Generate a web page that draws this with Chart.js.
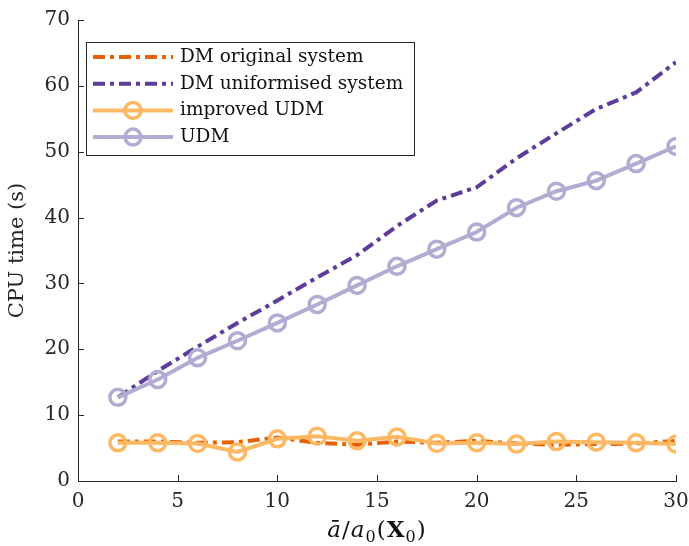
<!DOCTYPE html>
<html>
<head>
<meta charset="utf-8">
<script src="https://cdn.jsdelivr.net/npm/chart.js@4"></script>
<style>
  html, body { margin: 0; padding: 0; background: #fff; }
  #wrap { width: 689px; height: 546px; }
</style>
</head>
<body>
<div id="wrap"><canvas id="chart" width="689" height="546"></canvas></div>
<script>
const xs = [2, 4, 6, 8, 10, 12, 14, 16, 18, 20, 22, 24, 26, 28, 30]
const dmOriginal = [6.0, 6.0, 5.8, 5.9, 6.6, 5.8, 5.5, 6.0, 5.8, 6.1, 5.7, 5.5, 5.6, 5.7, 6.1]
const dmUniformised = [12.7, 16.7, 20.4, 24.0, 27.4, 30.9, 34.3, 38.7, 42.6, 44.6, 49.0, 52.8, 56.5, 59.0, 63.6]
const improvedUdm = [5.8, 5.8, 5.7, 4.4, 6.4, 6.8, 6.1, 6.7, 5.7, 5.8, 5.6, 6.0, 5.9, 5.8, 5.6]
const udm = [12.7, 15.4, 18.7, 21.3, 24.0, 26.8, 29.7, 32.6, 35.2, 37.8, 41.5, 44.0, 45.6, 48.2, 50.8]

const FONT = "'DejaVu Serif', 'Liberation Serif', serif"
const INK = '#262626'

function pts(ys) {
  return xs.map((x, i) => ({ x: x, y: ys[i] }))
}

const datasets = [
  {
    label: 'DM original system',
    data: pts(dmOriginal),
    borderColor: '#e66101',
    borderWidth: 4,
    borderDash: [12, 5, 4, 5],
    pointRadius: 0,
    order: 4
  },
  {
    label: 'DM uniformised system',
    data: pts(dmUniformised),
    borderColor: '#5e3c99',
    borderWidth: 4,
    borderDash: [12, 5, 4, 5],
    pointRadius: 0,
    order: 3
  },
  {
    label: 'improved UDM',
    data: pts(improvedUdm),
    borderColor: '#fdb863',
    borderWidth: 4,
    pointRadius: 8,
    pointBorderWidth: 3.5,
    pointBackgroundColor: 'rgba(0,0,0,0)',
    pointBorderColor: '#fdb863',
    order: 2
  },
  {
    label: 'UDM',
    data: pts(udm),
    borderColor: '#b2abd2',
    borderWidth: 4,
    pointRadius: 8,
    pointBorderWidth: 3.5,
    pointBackgroundColor: 'rgba(0,0,0,0)',
    pointBorderColor: '#b2abd2',
    order: 1
  }
]

// inward tick marks like the original
const innerTicks = {
  id: 'innerTicks',
  afterDraw(chart) {
    const ctx = chart.ctx
    const xS = chart.scales.x, yS = chart.scales.y
    const a = chart.chartArea
    ctx.save()
    ctx.strokeStyle = INK
    ctx.lineWidth = 1
    ctx.beginPath()
    xS.ticks.forEach((t) => {
      const px = Math.round(xS.getPixelForValue(t.value)) + 0.5
      ctx.moveTo(px, a.bottom)
      ctx.lineTo(px, a.bottom - 6)
    })
    yS.ticks.forEach((t) => {
      const py = Math.round(yS.getPixelForValue(t.value)) + 0.5
      ctx.moveTo(a.left, py)
      ctx.lineTo(a.left + 6, py)
    })
    ctx.stroke()
    ctx.restore()
  }
}

// x axis title with math styling: ā/a₀(X₀)
const mathTitle = {
  id: 'mathTitle',
  afterDraw(chart) {
    const ctx = chart.ctx
    const a = chart.chartArea
    const parts = [
      { t: 'ā', f: 'italic 23px ' + FONT, dy: 0 },
      { t: '/', f: '23px ' + FONT, dy: 0 },
      { t: 'a', f: 'italic 23px ' + FONT, dy: 0 },
      { t: '0', f: '16px ' + FONT, dy: 5 },
      { t: '(', f: '23px ' + FONT, dy: 0 },
      { t: 'X', f: 'bold 23px ' + FONT, dy: 0 },
      { t: '0', f: '16px ' + FONT, dy: 5 },
      { t: ')', f: '23px ' + FONT, dy: 0 }
    ]
    ctx.save()
    let total = 0
    parts.forEach((p) => { ctx.font = p.f; p.w = ctx.measureText(p.t).width + 1; total += p.w })
    let x = (a.left + a.right) / 2 - total / 2
    const base = 537
    ctx.fillStyle = '#111'
    ctx.textBaseline = 'alphabetic'
    parts.forEach((p) => {
      ctx.font = p.f
      ctx.fillText(p.t, x, base + p.dy)
      x += p.w
    })
    ctx.restore()
  }
}

// boxed legend with line + marker samples
const boxLegend = {
  id: 'boxLegend',
  afterDraw(chart) {
    const ctx = chart.ctx
    const bx = 86, by = 42, bw = 328, bh = 113
    ctx.save()
    ctx.fillStyle = '#fff'
    ctx.fillRect(bx, by, bw, bh)
    ctx.strokeStyle = INK
    ctx.lineWidth = 1
    ctx.strokeRect(bx + 0.5, by + 0.5, bw, bh)
    chart.data.datasets.forEach((ds, i) => {
      const y = 57 + i * 26.7
      ctx.strokeStyle = ds.borderColor
      ctx.lineWidth = 4
      ctx.setLineDash(ds.borderDash || [])
      ctx.beginPath()
      ctx.moveTo(93, y)
      ctx.lineTo(173, y)
      ctx.stroke()
      ctx.setLineDash([])
      if (ds.pointRadius) {
        ctx.lineWidth = ds.pointBorderWidth
        ctx.beginPath()
        ctx.arc(133, y, ds.pointRadius, 0, Math.PI * 2)
        ctx.stroke()
      }
      ctx.fillStyle = '#111'
      ctx.font = '18.5px ' + FONT
      ctx.textBaseline = 'middle'
      ctx.fillText(ds.label, 180, y)
    })
    ctx.restore()
  }
}

const chartConfig = {
  type: 'line',
  data: { datasets: datasets },
  plugins: [innerTicks, mathTitle, boxLegend],
  options: {
    responsive: false,
    animation: false,
    layout: { padding: { top: 20, right: 0, left: 0, bottom: 0 } },
    plugins: {
      legend: { display: false },
      tooltip: { enabled: false }
    },
    scales: {
      x: {
        type: 'linear',
        min: 0,
        max: 30,
        ticks: { stepSize: 5, color: INK, font: { family: FONT, size: 20 }, padding: 9, maxRotation: 0 },
        grid: { display: false, drawTicks: false },
        border: { color: INK, width: 1 },
        afterFit(scale) {
          scale.height = 65
          scale.paddingLeft = 0
          scale.paddingRight = 13
        }
      },
      y: {
        min: 0,
        max: 70,
        ticks: { stepSize: 10, color: INK, font: { family: FONT, size: 20 }, padding: 8 },
        grid: { display: false, drawTicks: false },
        border: { color: INK, width: 1 },
        title: { display: true, text: 'CPU time (s)', color: INK, font: { family: FONT, size: 21 }, padding: { top: 5, bottom: 4 } },
        afterFit(scale) { scale.width = 78 }
      }
    }
  }
}

new Chart(document.getElementById('chart').getContext('2d'), chartConfig)
</script>
</body>
</html>
